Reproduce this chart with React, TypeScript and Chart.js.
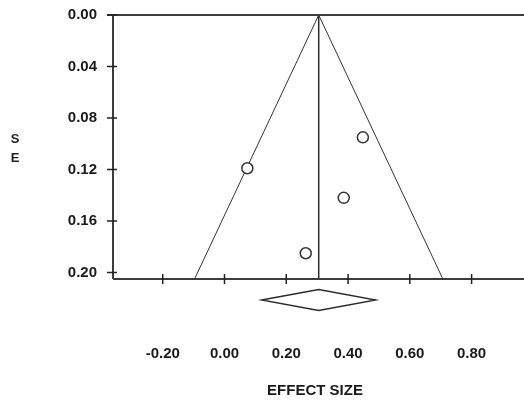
import React, { useEffect, useRef } from 'react';
import { Chart, registerables } from 'chart.js';

Chart.register(...registerables);

// Study points (effect size, standard error)
const effectSizes = [0.074, 0.448, 0.386, 0.263];
const standardErrors = [0.119, 0.095, 0.142, 0.185];

// Funnel (pseudo 95% limits) and pooled estimate
const funnelX = [-0.097, 0.305, 0.707];
const funnelY = [0.205, 0, 0.205];
const pooledEffect = 0.305;
const pooledLow = 0.12;
const pooledHigh = 0.49;

// Axes
const xTicks = [-0.2, 0, 0.2, 0.4, 0.6, 0.8];
const yTicks = [0, 0.04, 0.08, 0.12, 0.16, 0.2];
const xRange = [-0.361, 0.947];
const yRange = [0, 0.205];
const yTitleLetters = ['S', 'E'];
const xTitle = 'EFFECT SIZE';

const FONT = '"Liberation Sans", Arial, Helvetica, sans-serif';

const funnelPlugin = {
  id: 'funnelAxes',
  afterDatasetsDraw(chart: any) {
    const { ctx, chartArea, scales } = chart;
    const { left, top, bottom } = chartArea;
    const x = scales.x;
    const y = scales.y;
    ctx.save();
    // frame lines
    ctx.strokeStyle = '#3d3d3d';
    ctx.lineWidth = 2;
    ctx.beginPath();
    ctx.moveTo(left - 6, top);
    ctx.lineTo(chart.width, top);
    ctx.moveTo(left, top);
    ctx.lineTo(left, bottom);
    ctx.moveTo(left, bottom);
    ctx.lineTo(chart.width, bottom);
    ctx.stroke();
    // tick marks
    ctx.strokeStyle = '#222';
    ctx.lineWidth = 1.5;
    ctx.beginPath();
    yTicks.forEach((v) => {
      const p = y.getPixelForValue(v);
      ctx.moveTo(left - 6, p);
      ctx.lineTo(left + 4, p);
    });
    xTicks.forEach((v) => {
      const p = x.getPixelForValue(v);
      ctx.moveTo(p, bottom - 5);
      ctx.lineTo(p, bottom + 5);
    });
    ctx.stroke();
    // pooled estimate diamond
    const cx = x.getPixelForValue(pooledEffect);
    const lx = x.getPixelForValue(pooledLow);
    const rx = x.getPixelForValue(pooledHigh);
    const cy = bottom + 21;
    const h = 10.5;
    ctx.strokeStyle = '#2a2a2a';
    ctx.lineWidth = 1.3;
    ctx.beginPath();
    ctx.moveTo(lx, cy);
    ctx.lineTo(cx, cy - h);
    ctx.lineTo(rx, cy);
    ctx.lineTo(cx, cy + h);
    ctx.closePath();
    ctx.stroke();
    // vertical axis title (stacked letters)
    ctx.fillStyle = '#222';
    ctx.font = `bold 13px ${FONT}`;
    ctx.textAlign = 'center';
    ctx.textBaseline = 'middle';
    yTitleLetters.forEach((t, i) => ctx.fillText(t, 15, 139 + i * 19.5));
    ctx.restore();
  },
};

export default function App() {
  const canvasRef = useRef<HTMLCanvasElement | null>(null);

  useEffect(() => {
    const canvas = canvasRef.current;
    if (!canvas) return;
    const points = effectSizes.map((v, i) => ({ x: v, y: standardErrors[i] }));
    const funnel = funnelX.map((v, i) => ({ x: v, y: funnelY[i] }));
    const pooledLine = [
      { x: pooledEffect, y: yRange[0] },
      { x: pooledEffect, y: yRange[1] },
    ];
    const chart = new Chart(canvas, {
      type: 'scatter',
      data: {
        datasets: [
          {
            label: 'Studies',
            data: points,
            pointRadius: 5.5,
            pointBorderWidth: 1.5,
            pointBackgroundColor: '#ffffff',
            pointBorderColor: '#333333',
            showLine: false,
          },
          {
            label: 'Funnel',
            data: funnel,
            showLine: true,
            borderColor: '#333333',
            borderWidth: 1,
            pointRadius: 0,
            fill: false,
            clip: false,
          } as any,
          {
            label: 'Pooled',
            data: pooledLine,
            showLine: true,
            borderColor: '#2a2a2a',
            borderWidth: 1.5,
            pointRadius: 0,
            fill: false,
            clip: false,
          } as any,
        ],
      },
      options: {
        animation: false,
        responsive: false,
        maintainAspectRatio: false,
        layout: { padding: { left: 0, top: 15, right: 1, bottom: 0 } },
        plugins: {
          legend: { display: false },
          tooltip: { enabled: false },
        },
        scales: {
          x: {
            type: 'linear',
            min: xRange[0],
            max: xRange[1],
            grid: { display: true, drawOnChartArea: false, drawTicks: true, tickLength: 66, color: 'rgba(0,0,0,0)' },
            border: { display: false },
            afterBuildTicks: (axis: any) => {
              axis.ticks = xTicks.map((v) => ({ value: v }));
            },
            afterFit: (axis: any) => {
              axis.height = 123;
            },
            ticks: {
              padding: 0,
              color: '#1a1a1a',
              font: { family: FONT, size: 15, weight: 'bold' },
              callback: (v: any) => Number(v).toFixed(2),
              maxRotation: 0,
              autoSkip: false,
            },
            title: {
              display: true,
              text: xTitle,
              color: '#1a1a1a',
              font: { family: FONT, size: 15, weight: 'bold' },
              padding: { top: 0, bottom: 2 },
            },
          },
          y: {
            type: 'linear',
            reverse: true,
            min: yRange[0],
            max: yRange[1],
            grid: { display: true, drawOnChartArea: false, drawTicks: true, tickLength: 16, color: 'rgba(0,0,0,0)' },
            border: { display: false },
            afterBuildTicks: (axis: any) => {
              axis.ticks = yTicks.map((v) => ({ value: v }));
            },
            afterFit: (axis: any) => {
              axis.width = 113;
            },
            ticks: {
              padding: 0,
              color: '#1a1a1a',
              font: { family: FONT, size: 15, weight: 'bold' },
              callback: (v: any) => Number(v).toFixed(2),
              autoSkip: false,
            },
          },
        },
      },
      plugins: [funnelPlugin],
    });
    return () => chart.destroy();
  }, []);

  return (
    <div style={{ position: 'absolute', left: 0, top: 0, width: 524, height: 402, background: '#fff' }}>
      <canvas ref={canvasRef} width={524} height={402} style={{ display: 'block' }} />
    </div>
  );
}
